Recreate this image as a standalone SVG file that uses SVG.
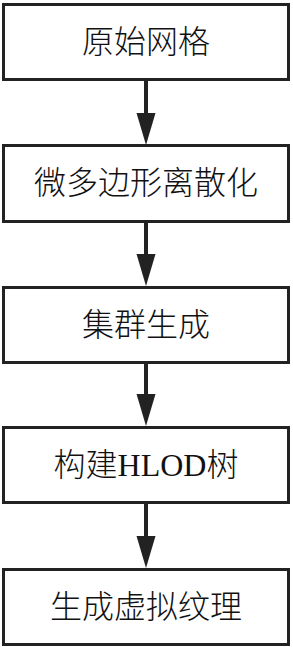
<svg xmlns="http://www.w3.org/2000/svg" width="293" height="647" viewBox="0 0 293 647">
<style>
.box{fill:#fff;stroke:#222;stroke-width:3}
.t{font-family:"Liberation Serif","Noto Sans CJK SC",serif;font-size:32px;font-weight:300;fill:#111;text-anchor:middle;dominant-baseline:central}
.lat{font-weight:400}
.c{stroke:#222;stroke-width:4;fill:none}
.ah{fill:#222}
</style>
<g id="n1"><rect class="box" x="3.5" y="4.5" width="285" height="75"/><text class="t" x="146" y="42">原始网格</text></g>
<g id="n2"><rect class="box" x="3.5" y="145.5" width="285" height="76"/><text class="t" x="146" y="183">微多边形离散化</text></g>
<g id="n3"><rect class="box" x="3.5" y="287.5" width="285" height="75"/><text class="t" x="146" y="325">集群生成</text></g>
<g id="n4"><rect class="box" x="3.5" y="427.5" width="285" height="75"/><text class="t" x="146" y="465">构建<tspan class="lat">HLOD</tspan>树</text></g>
<g id="n5"><rect class="box" x="3.5" y="569.5" width="285" height="75"/><text class="t" x="146" y="607">生成虚拟纹理</text></g>
<g id="connectors">
<path class="c" d="M146,81 V115"/><path class="ah" d="M136.5,113 L155.5,113 L146,145 Z"/>
<path class="c" d="M146,223 V256"/><path class="ah" d="M136.5,254 L155.5,254 L146,286 Z"/>
<path class="c" d="M146,364 V396"/><path class="ah" d="M136.5,394 L155.5,394 L146,426 Z"/>
<path class="c" d="M146,504 V538"/><path class="ah" d="M136.5,536 L155.5,536 L146,568 Z"/>
</g>
</svg>
